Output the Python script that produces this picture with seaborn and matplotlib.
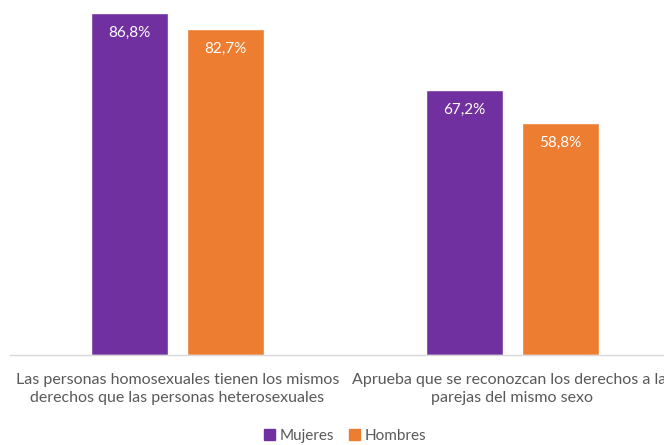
import pandas as pd
import numpy as np
import matplotlib
matplotlib.use("Agg")
import matplotlib.pyplot as plt
import seaborn as sns

# Data
categorias = ["Las personas homosexuales tienen los mismos\nderechos que las personas heterosexuales",
              "Aprueba que se reconozcan los derechos a las\nparejas del mismo sexo"]
mujeres = [86.8, 67.2]
hombres = [82.7, 58.8]
series = ["Mujeres", "Hombres"]
colores = ["#7030A0", "#ED7D31"]

df = pd.DataFrame({
    "categoria": categorias * 2,
    "grupo": [series[0]] * 2 + [series[1]] * 2,
    "valor": mujeres + hombres,
})

sns.set_style("white")
plt.rcParams["font.family"] = ["Lato", "DejaVu Sans"]

fig = plt.figure(figsize=(6.64, 4.45), dpi=100)
ax = fig.add_axes([10 / 664, 90 / 445, 670 / 664, 355 / 445])

sns.barplot(data=df, x="categoria", y="valor", hue="grupo", palette=colores,
            width=0.573, gap=0.2, ax=ax, legend=False, saturation=1)

# Value labels inside bars
for cont in ax.containers:
    ax.bar_label(cont, labels=[f"{v:.1f}%".replace(".", ",") for v in cont.datavalues],
                 label_type="edge", padding=-19, color="white", fontsize=11)

ax.set_ylim(0, 90.1)
ax.set_xlim(-0.5, 1.5)
ax.set_xlabel("")
ax.set_ylabel("")
ax.set_yticks([])
for s in ["top", "right", "left"]:
    ax.spines[s].set_visible(False)
ax.spines["bottom"].set_color("#d9d9d9")
ax.spines["bottom"].set_linewidth(1)
ax.tick_params(axis="x", length=0, pad=13, labelsize=11.5, labelcolor="#595959")
for lbl in ax.get_xticklabels():
    lbl.set_linespacing(1.35)

# Legend
from matplotlib.patches import Patch
handles = [Patch(color=c, label=s) for c, s in zip(colores, series)]
fig.legend(handles=handles, loc="center", bbox_to_anchor=(345 / 664, 1 - 436 / 445),
           ncol=2, frameon=False, handlelength=0.7, handleheight=0.7,
           handletextpad=0.3, columnspacing=1.0, fontsize=11, labelcolor="#595959")

fig.savefig("out.png", dpi=100)
